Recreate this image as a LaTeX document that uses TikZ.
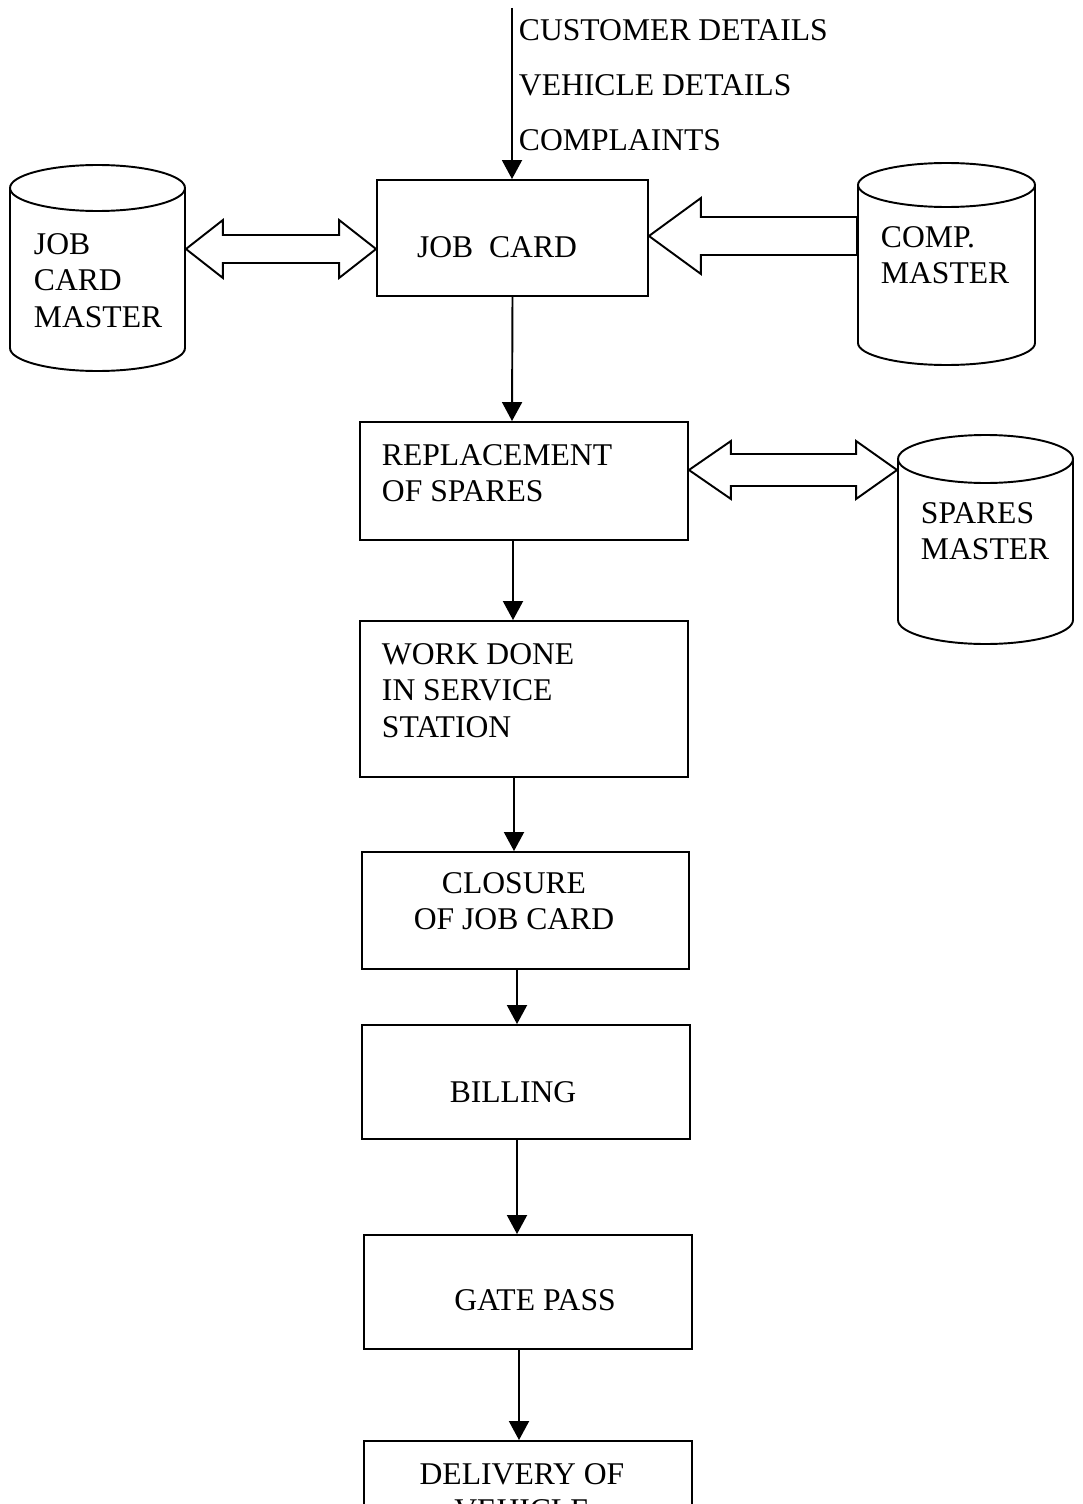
\documentclass[tikz,border=0pt]{standalone}
\usepackage{fontspec}
\setmainfont{Liberation Serif}
\usetikzlibrary{arrows.meta,calc}
\newcommand\mycyl[5]{%
 \draw ({#1-#2},#3) -- ({#1-#2},#4) arc[start angle=180,end angle=360,x radius={#2*0.02cm},y radius={#5*0.02cm}] -- ({#1+#2},#3);
 \draw (#1,#3) ellipse[x radius={#2*0.02cm}, y radius={#5*0.02cm}];}
\begin{document}
\begin{tikzpicture}[x=0.02cm,y=-0.02cm,line width=1.1pt,
  box/.style={draw,rectangle,inner sep=0pt,minimum width=6.56cm},
  hold/.style={inner sep=0pt,rectangle},
  txt/.style={inner sep=0pt,font=\fontsize{18}{20.8}\selectfont},
  arr/.style={-{Triangle[length=0.38cm,width=0.4cm]}},
  hollow/.style={draw,line join=miter}]
\useasboundingbox (0,0) rectangle (1082,1504);
\clip (0,0) rectangle (1082,1504);

% boxes
\node[box,minimum width=5.42cm,minimum height=2.32cm] (jc) at (512.5,238) {};
\node[box,minimum height=2.36cm] (rep) at (524,481) {};
\node[box,minimum height=3.12cm] (work) at (524,699) {};
\node[box,minimum width=6.54cm,minimum height=2.34cm] (clos) at (525.5,910.5) {};
\node[box,minimum height=2.28cm] (bill) at (526,1082) {};
\node[box,minimum height=2.28cm] (gate) at (528,1292) {};
\node[box,minimum height=2.36cm] (deliv) at (528,1500) {};

% cylinders
\mycyl{97.5}{87.5}{188}{348}{23}
\node[hold,minimum width=3.5cm,minimum height=4.14cm] (jcm) at (97.5,268.5) {};
\mycyl{946.5}{88.5}{185}{343}{22}
\node[hold,minimum width=3.54cm,minimum height=4.1cm] (cm) at (946.5,264.5) {};
\mycyl{985.5}{87.5}{459}{620}{24}
\node[hold,minimum width=3.5cm,minimum height=4.18cm] (sm) at (985.5,539.5) {};

% texts
\node[txt,anchor=west] (t1) at (518,30) {CUSTOMER DETAILS};
\node[txt,anchor=west] (t2) at (518,85) {VEHICLE DETAILS};
\node[txt,anchor=west] (t3) at (518,140) {COMPLAINTS};
\node[txt] (tjc) at (497,247) {JOB\ \ CARD};
\node[txt,anchor=north west,align=left] (tjcm) at (33,232.5) {JOB\\CARD\\MASTER};
\node[txt,anchor=north west,align=left] (tcm) at (880,225.5) {COMP.\\MASTER};
\node[txt,anchor=north west,align=left] (trep) at (381,443.5) {REPLACEMENT\\OF SPARES};
\node[txt,anchor=north west,align=left] (tsm) at (920,501.5) {SPARES\\MASTER};
\node[txt,anchor=north west,align=left] (twork) at (381,642.5) {WORK DONE\\IN SERVICE\\STATION};
\node[txt,align=center] (tclos) at (514,901) {CLOSURE\\OF JOB CARD};
\node[txt] (tbill) at (513,1092) {BILLING};
\node[txt] (tgate) at (535,1300) {GATE PASS};
\node[txt,anchor=north,align=center] (tdel) at (522,1462.5) {DELIVERY OF\\VEHICLE};

% vertical arrows
\coordinate (in) at (512,8);
\draw[arr] (in) -- (in |- jc.north);
\draw[arr] (jc.south) -- ($(rep.north)+(-12,0)$);
\draw[arr] ($(rep.south)+(-11,0)$) -- ($(work.north)+(-11,0)$);
\draw[arr] ($(work.south)+(-10,0)$) -- ($(clos.north)+(-11.5,0)$);
\draw[arr] ($(clos.south)+(-8.5,0)$) -- ($(bill.north)+(-9,0)$);
\draw[arr] ($(bill.south)+(-9,0)$) -- ($(gate.north)+(-11,0)$);
\draw[arr] ($(gate.south)+(-9,0)$) -- ($(deliv.north)+(-9,0)$);

% hollow double arrow JCM <-> JOB CARD
\coordinate (L1) at ($(jcm.east)+(0,-19.5)$);
\coordinate (R1) at (jc.west |- L1);
\draw[hollow] (L1) -- ++(37,-29) -- ++(0,15) -- ($(R1)+(-37,-14)$) -- ++(0,-15) -- (R1)
  -- ++(-37,29) -- ++(0,-15) -- ($(L1)+(37,14)$) -- ++(0,15) -- cycle;

% hollow arrow COMP MASTER -> JOB CARD
\coordinate (T2) at ($(jc.east)+(0,-2)$);
\coordinate (S2) at (cm.west |- T2);
\draw[hollow] (T2) -- ++(52,-38) -- ++(0,19) -- ($(S2)+(0,-19)$) -- ($(S2)+(0,19)$)
  -- ($(T2)+(52,19)$) -- ++(0,19) -- cycle;

% hollow double arrow REPLACEMENT <-> SPARES MASTER
\coordinate (L3) at ($(rep.east)+(0,-11)$);
\coordinate (R3) at (sm.west |- L3);
\draw[hollow] (L3) -- ++(42,-29) -- ++(0,13) -- ($(R3)+(-41,-16)$) -- ++(0,-13) -- (R3)
  -- ++(-41,29) -- ++(0,-13) -- ($(L3)+(42,16)$) -- ++(0,13) -- cycle;
\end{tikzpicture}
\end{document}
